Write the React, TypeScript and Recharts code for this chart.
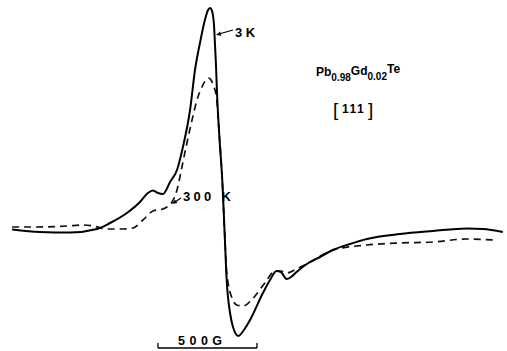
import React from 'react';
import { LineChart, Line, XAxis, YAxis, ReferenceLine } from 'recharts';

// Magnetic field (G, relative to scale-bar start) and EPR derivative signal (arb. units)
const solidField = [-737, -596, -444, -308, -242, -157, -91, -51, -25, 0, 25, 61, 96, 126, 162, 187, 212, 237, 253, 263, 273, 283, 288, 293, 298, 308, 326, 336, 347, 364, 379, 406, 434, 465, 530, 566, 599, 621, 650, 672, 700, 752, 818, 884, 970, 1055, 1222, 1389, 1560, 1641, 1742];
const solidSignal = [0.5, -2, -2.5, 1, 7, 17, 28, 37, 39.5, 37, 36, 48, 60, 83, 120, 160, 187, 210, 220, 222, 219, 205, 185, 165, 138, 100, 45, 0, -50, -83, -97, -106, -100, -90, -63, -50, -41, -42, -49, -47, -42, -34, -27, -20, -14, -9, -4, -1, 1.5, 1, -2];

const dashedField = [-737, -631, -460, -379, -328, -258, -177, -126, -76, -25, 25, 71, 96, 121, 146, 172, 197, 222, 242, 255, 268, 279, 296, 308, 326, 336, 347, 354, 372, 398, 431, 481, 540, 591, 621, 650, 700, 752, 884, 1055, 1222, 1389, 1560, 1692];
const dashedSignal = [3, 3, 4, 5, 4, 1, 1, 2, 10, 19, 21, 28, 40, 63, 87, 110, 130, 143, 150, 152, 150, 145, 132, 100, 45, 0, -42, -53, -67, -75, -76, -68, -53, -41, -41, -43, -39, -34, -20, -15, -13, -12, -9, -10];

const scaleBarStart = 0;
const scaleBarEnd = 500;
const scaleBarLevel = -118;
const scaleBarTick = -113;

const solidData = solidField.map((g, i) => ({ g, v: solidSignal[i] }));
const dashedData = dashedField.map((g, i) => ({ g, v: dashedSignal[i] }));

const W = 507;
const H = 351;
const font = '"Liberation Sans", Arial, Helvetica, sans-serif';

export default function App() {
  return (
    <div style={{ position: 'absolute', left: 0, top: 0, width: W, height: H, background: '#fff' }}>
      <LineChart width={W} height={H} margin={{ top: 0, right: 0, bottom: 0, left: 0 }}>
        <XAxis type="number" dataKey="g" domain={[-798, 1763]} hide allowDataOverflow />
        <YAxis type="number" dataKey="v" domain={[-121, 230]} hide allowDataOverflow />
        <Line
          data={dashedData}
          dataKey="v"
          type="monotone"
          stroke="#111"
          strokeWidth={1.7}
          strokeDasharray="7 5"
          dot={false}
          activeDot={false}
          isAnimationActive={false}
        />
        <Line
          data={solidData}
          dataKey="v"
          type="monotone"
          stroke="#000"
          strokeWidth={2}
          dot={false}
          activeDot={false}
          isAnimationActive={false}
        />
        <ReferenceLine
          segment={[{ x: scaleBarStart, y: scaleBarLevel }, { x: scaleBarEnd, y: scaleBarLevel }]}
          stroke="#000"
          strokeWidth={1.3}
        />
        <ReferenceLine
          segment={[{ x: scaleBarStart, y: scaleBarLevel }, { x: scaleBarStart, y: scaleBarTick }]}
          stroke="#000"
          strokeWidth={1.3}
        />
        <ReferenceLine
          segment={[{ x: scaleBarEnd, y: scaleBarLevel }, { x: scaleBarEnd, y: scaleBarTick }]}
          stroke="#000"
          strokeWidth={1.3}
        />
      </LineChart>
      <svg width={W} height={H} style={{ position: 'absolute', left: 0, top: 0, pointerEvents: 'none' }}>
        {/* 3 K label + arrow */}
        <line x1={233} y1={30} x2={219} y2={34} stroke="#000" strokeWidth={1.2} />
        <polygon points="216,35 221.4,35.7 220.2,31.5" fill="#000" />
        <text x={235} y={37} fontFamily={font} fontWeight="bold" fontSize={13}>3 K</text>

        {/* 300 K label + arrow */}
        <line x1={181} y1={198} x2={175} y2={202} stroke="#000" strokeWidth={1.2} />
        <polygon points="172,204 177.4,203 175,199.4" fill="#000" />
        <text x={183} y={201} fontFamily={font} fontWeight="bold" fontSize={13} letterSpacing={3.3}>300 K</text>

        {/* formula */}
        <text x={316} y={76} fontFamily={font} fontWeight="bold" fontSize={12}>
          <tspan>Pb</tspan>
          <tspan dy={5} fontSize={10}>0.98</tspan>
          <tspan dy={-6} fontSize={12}>Gd</tspan>
          <tspan dy={5} fontSize={10}>0.02</tspan>
          <tspan dy={-7} fontSize={12}>Te</tspan>
        </text>

        {/* [111] */}
        <text x={333} y={116} fontFamily={font} fontSize={19} fontWeight="normal">[</text>
        <text x={342} y={113} fontFamily={font} fontWeight="bold" fontSize={12} letterSpacing={1.5}>111</text>
        <text x={368} y={116} fontFamily={font} fontSize={19} fontWeight="normal">]</text>

        {/* scale bar label */}
        <text x={178} y={345} fontFamily={font} fontWeight="bold" fontSize={12.5} letterSpacing={4.5}>500G</text>
      </svg>
    </div>
  );
}
